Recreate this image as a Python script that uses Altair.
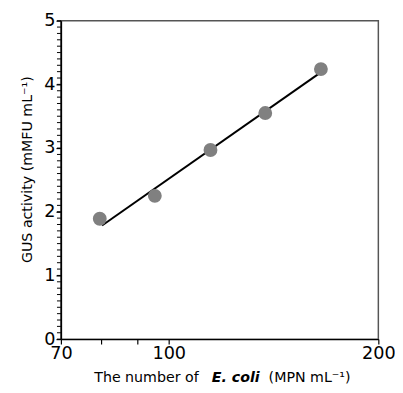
import altair as alt
import pandas as pd

# data
ecoli = [79.6, 95.5, 114.8, 137.6, 165.4]
gus = [1.89, 2.25, 2.97, 3.55, 4.24]
fit_x = [80.2, 165.9]
fit_y = [1.785, 4.20]

x_ticks = [70, 80, 90, 100, 200]
x_labels = [70, 100, 200]
y_major = [0, 1, 2, 3, 4, 5]
y_minor = [round(i * 0.1, 1) for i in range(51)]

FONT = "DejaVu Sans"

pts = pd.DataFrame({"x": ecoli, "y": gus})
fit = pd.DataFrame({"x": fit_x, "y": fit_y})
minor_df = pd.DataFrame({"v": y_minor})

xscale = alt.Scale(type="log", domain=[70, 200], nice=False)
yscale = alt.Scale(domain=[0, 5], nice=False)

label_test = " || ".join(f"datum.value == {v}" for v in x_labels)

xaxis = alt.Axis(
    values=x_ticks,
    labelExpr=f"({label_test}) ? format(datum.value, 'd') : ''",
    title=None, grid=False, tickSize=5, tickColor="black", tickWidth=1.2,
    domainColor="black", domainWidth=1.5, labelFont=FONT, labelFontSize=18,
    labelColor="black", labelPadding=1, labelFlush=False, labelOverlap=False,
)
yaxis = alt.Axis(
    values=y_major, format="d",
    title=None, grid=False, tickSize=5, tickColor="black", tickWidth=1.2,
    domainColor="black", domainWidth=1.5, labelFont=FONT, labelFontSize=18,
    labelColor="black", labelPadding=1, labelFlush=False, labelOverlap=False,
)

line = alt.Chart(fit).mark_line(color="black", strokeWidth=2).encode(
    x=alt.X("x:Q", scale=xscale, axis=xaxis),
    y=alt.Y("y:Q", scale=yscale, axis=yaxis),
)
points = alt.Chart(pts).mark_circle(size=200, color="#808080", opacity=1).encode(
    x=alt.X("x:Q", scale=xscale, axis=xaxis),
    y=alt.Y("y:Q", scale=yscale, axis=yaxis),
)
# minor ticks on the y axis
minor = alt.Chart(minor_df).mark_rule(color="black", strokeWidth=1).encode(
    y=alt.Y("v:Q", scale=yscale, axis=yaxis),
    x=alt.value(-4),
    x2=alt.value(0),
)


def txt(s, x, y, size=14, angle=0, weight="normal", style="normal", align="left"):
    return alt.Chart(pd.DataFrame({"t": [s]})).mark_text(
        font=FONT, fontSize=size, fontWeight=weight, fontStyle=style,
        align=align, baseline="alphabetic", angle=angle, color="black",
    ).encode(text="t:N", x=alt.value(x), y=alt.value(y))


xb = 369
titles = [
    txt("The number of", 34, xb, size=14.5),
    txt("E. coli", 154, xb, size=14.5, weight="bold", style="italic"),
    txt("(MPN mL\u207b\u00b9)", 212, xb, size=14.5),
    txt("GUS activity (mMFU mL\u207b\u00b9)", -29, 152, size=14.5, angle=270, align="center"),
]

chart = alt.layer(line, points, minor, *titles).properties(
    width=324, height=325,
    autosize=alt.AutoSizeParams(type="none"),
    padding={"left": 54, "top": 9, "right": 17, "bottom": 50},
).configure_view(stroke="#555555", strokeWidth=1.5)

chart.save("out.html", embed_options={"renderer": "svg", "actions": False})
